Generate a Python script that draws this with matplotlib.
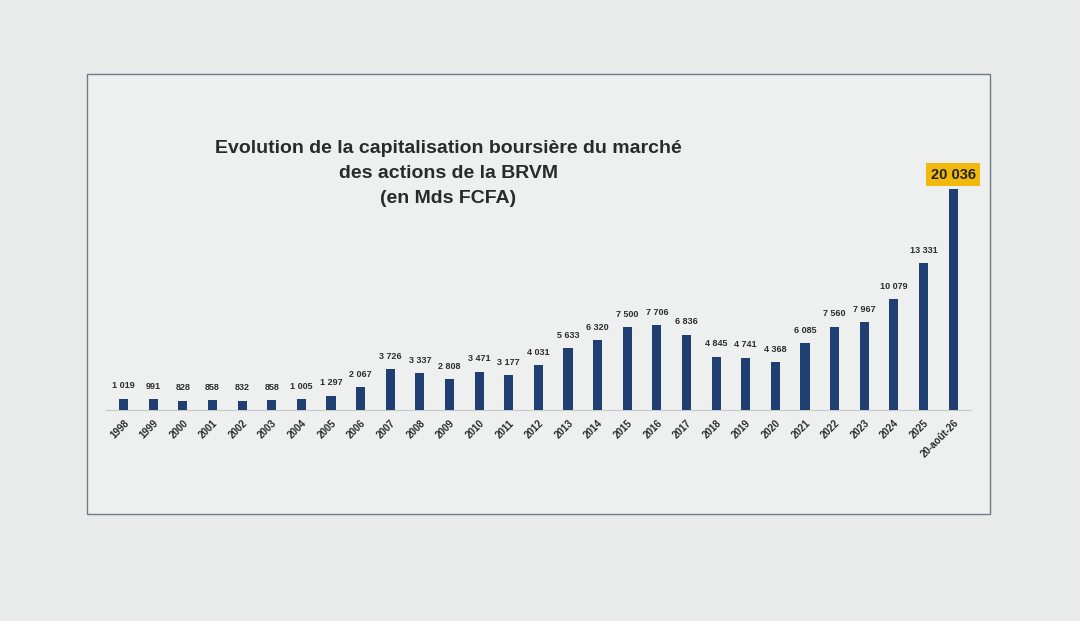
import matplotlib
matplotlib.use("Agg")
import matplotlib.pyplot as plt
from matplotlib.patches import Rectangle

years = ["1998", "1999", "2000", "2001", "2002", "2003", "2004", "2005", "2006",
         "2007", "2008", "2009", "2010", "2011", "2012", "2013", "2014", "2015",
         "2016", "2017", "2018", "2019", "2020", "2021", "2022", "2023", "2024",
         "2025", "20-août-26"]
cap = [1019, 991, 828, 858, 832, 858, 1005, 1297, 2067,
       3726, 3337, 2808, 3471, 3177, 4031, 5633, 6320, 7500,
       7706, 6836, 4845, 4741, 4368, 6085, 7560, 7967, 10079,
       13331, 20036]


def fmt(v):
    return f"{v:,}".replace(",", " ")


plt.rcParams["font.family"] = ["Liberation Sans", "DejaVu Sans"]

fig = plt.figure(figsize=(10.8, 6.21), dpi=100)
fig.patch.set_facecolor("#e9eaea")

# framed slide area
frame = Rectangle((0.0806, 0.172), 0.836, 0.709, transform=fig.transFigure,
                  facecolor="#eeefef", edgecolor="#6f7a86", linewidth=1.0,
                  zorder=-10)
fig.patches.append(frame)

ax = fig.add_axes([0.098, 0.34, 0.801, 0.39])
ax.set_facecolor("none")
x = list(range(len(years)))
ax.bar(x, cap, width=0.31, color="#1f3e72", zorder=3)
ax.set_xlim(-0.6, len(years) - 0.4)
ax.set_ylim(0, 22000)

for xi, v in zip(x[:-1], cap[:-1]):
    ax.text(xi, v + 750, fmt(v), ha="center", va="bottom", fontsize=6.5,
            fontweight="bold", color="#2e2e2e")
ax.text(x[-1], cap[-1] + 700, fmt(cap[-1]), ha="center", va="bottom",
        fontsize=10.5, fontweight="bold", color="#222222",
        bbox=dict(boxstyle="square,pad=0.3", facecolor="#f0b90b", edgecolor="none"))

ax.set_xticks(x)
ax.set_xticklabels(years, rotation=45, ha="right", rotation_mode="anchor",
                   fontsize=7, fontweight="bold", color="#2a2a2a")
ax.tick_params(axis="x", length=0, pad=6)
ax.set_yticks([])
for s in ["top", "right", "left"]:
    ax.spines[s].set_visible(False)
ax.spines["bottom"].set_color("#c8c8c8")
ax.spines["bottom"].set_linewidth(0.8)

fig.text(0.415, 0.721, "Evolution de la capitalisation boursière du marché\n"
         "des actions de la BRVM\n(en Mds FCFA)",
         ha="center", va="center", fontsize=14, fontweight="bold",
         color="#2a2a2a", linespacing=1.6)

fig.savefig("out.png", dpi=100, facecolor=fig.get_facecolor())
